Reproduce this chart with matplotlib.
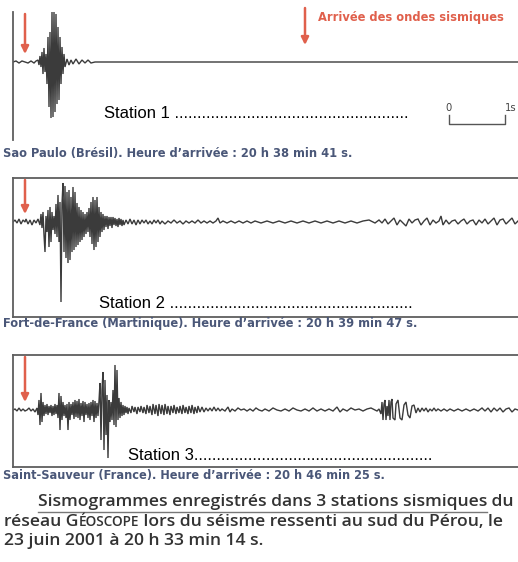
import matplotlib
matplotlib.use("Agg")
import matplotlib.pyplot as plt
import numpy as np

W, H = 518, 562

# --- data: traces (time in samples, amplitude in px) ---
station1 = [(0, 0), (3, 1), (6, -1), (9, 1), (12, 0), (15, -1), (18, 1), (21, -1), (23, 1),
            (25, 2), (26, -3), (27, 6), (28, -5), (29, 10), (30, -12), (31, 14), (32, -10),
            (33, 8), (34, -22), (35, 25), (36, -45), (37, 30), (38, -56), (39, 50), (40, -55),
            (41, 50), (42, -50), (43, 48), (44, -42), (45, 35), (46, -38), (47, 25), (48, -22),
            (49, 15), (50, -12), (51, 8), (52, -5), (54, 3), (56, -3), (58, 2), (60, -2),
            (63, 3), (66, -2), (69, 2), (72, -1), (75, 2), (78, -1), (82, 0), (505, 0)]

station2 = [(0, 0), (2, 2), (4, -1), (6, 3), (8, -2), (10, 2), (12, 0), (13, 3), (15, -2),
            (17, 2), (19, -3), (21, 2), (23, -1), (25, 3), (27, -3),
            (28, 8), (29, -6), (30, 10), (31, -13), (32, -30), (33, 6), (34, -10), (35, 12),
            (36, -25), (37, 15), (38, -20), (39, 10), (40, -8), (41, 6), (42, -12), (43, 18),
            (44, -15), (45, 27), (46, -20), (47, 20), (48, -80), (49, 18),
            (50, 39), (51, -30), (52, 36), (53, -36), (54, 30),
            (55, -41), (56, 32), (57, -38), (58, 25), (59, -30),
            (60, 35), (61, -28), (62, 30), (63, -25),
            (64, 19), (65, -23), (66, 15), (67, -20), (68, 12), (69, -18), (70, 10), (71, -15),
            (72, 8), (73, -12), (74, 10), (75, -10), (76, 14), (77, -15), (78, 20), (79, -22),
            (80, 25), (81, -28), (82, 22), (83, -25), (84, 25), (85, -20), (86, 15), (87, -15),
            (88, 10), (89, -10), (90, 8),
            (91, -8), (92, 6), (93, -5), (94, 6), (95, -7), (96, 5), (97, -4), (98, 5),
            (99, -6), (100, 5), (101, -3), (102, 4), (103, -4), (104, 3), (105, -5), (106, 4),
            (107, -3), (108, 3), (109, -4), (110, 2), (111, -3),
            (113, 2), (115, -2), (117, 3), (119, -2), (121, 2), (123, -3), (125, 2), (127, -2),
            (129, 2), (131, -1), (133, 2), (135, -2), (137, 1), (139, -2), (141, 2), (143, -1),
            (145, 2), (147, -2), (149, 1), (152, -2), (155, 1), (158, -1), (161, 2), (164, -1),
            (167, 1), (170, -2), (173, 1), (176, -1), (179, 1), (182, -1), (185, 2), (188, -1),
            (191, 1), (194, -1), (197, 1), (200, -1), (203, 1), (205, 4), (207, -1), (210, 1),
            (214, -1), (218, 1), (222, -1), (226, 1), (230, -1), (234, 1), (238, -1), (242, 1),
            (248, -1), (254, 1), (260, -1), (266, 1), (272, -1), (278, 1), (284, -1), (290, 1),
            (296, -1), (302, 1), (308, -1), (314, 1), (320, -1), (326, 1), (332, -1), (338, 1),
            (344, -1), (350, 1), (356, 2), (362, -1),
            (366, 2), (369, -1), (372, 3), (375, -2), (378, 1), (381, 4), (384, -3), (387, 2),
            (390, -1), (393, -4), (396, 3), (399, -1), (402, 2), (405, 3), (408, -3), (411, 1),
            (414, 4), (417, -3), (420, 2), (423, -1), (426, 1), (428, 6), (430, -3), (433, 2),
            (436, -2), (439, 1), (442, 2), (445, -2), (448, 1), (451, 3), (454, -2), (457, 1),
            (460, 2), (463, -3), (466, 2), (469, -1), (472, 3), (475, -2), (478, 1), (481, 4),
            (484, -3), (487, 2), (490, 3), (493, -2), (496, 1), (499, 4), (502, -2), (505, 1)]

station3 = [(0, 0), (2, 1), (4, -1), (6, 2), (8, -1), (10, 1), (12, -1), (14, 0), (16, 2),
            (18, -1), (20, 1), (22, -2), (24, 2),
            (25, -5), (26, 10), (27, -15), (28, 17), (29, -12), (30, 8),
            (31, -6), (32, 5), (33, -4), (34, 6), (35, -5), (36, 4), (37, -3), (38, 5), (39, -6),
            (40, 4), (41, -5), (42, 6), (43, -4), (44, 5),
            (45, -8), (46, 17), (47, -20), (48, 14), (49, -10),
            (50, 8), (51, -6), (52, 5), (53, -8), (54, 6), (55, -20), (56, 8), (57, -10), (58, 6),
            (59, -5), (60, 8), (61, -9), (62, 10), (63, -7), (64, 9), (65, -8), (66, 11),
            (67, -10), (68, 7), (69, -6), (70, 9), (71, -12), (72, 8), (73, -5), (74, 6),
            (75, -8), (76, 7), (77, -10), (78, 8), (79, -6), (80, 10), (81, -12), (82, 9),
            (83, -8), (84, 7), (85, -6), (86, 9),
            (87, 27), (88, -30), (89, 20), (90, 38), (91, -40), (92, 30), (93, -25), (94, 15),
            (95, -48), (96, 10), (97, -12),
            (98, 8), (99, -10), (100, 20), (101, -15), (102, 45), (103, -17), (104, 40), (105, -10),
            (106, 12), (107, -8), (108, 8), (109, -6), (110, 5), (111, -5), (112, 4),
            (113, -3), (114, 3), (115, -4), (116, 2), (118, -3), (119, 4), (121, -2), (122, 3),
            (124, -4), (125, 3), (127, -2), (128, 4), (130, -3), (131, 3), (133, -4), (134, 5),
            (136, -3), (137, 4), (139, -5), (140, 6), (142, -4), (143, 5), (145, -6), (146, 6),
            (148, -4), (149, 5), (151, -5), (152, 6), (154, -4), (155, 4), (157, -5), (158, 4),
            (160, -3), (161, 5), (163, -4), (164, 3), (166, -3), (167, 4), (169, -4), (170, 5),
            (172, -3), (173, 3), (175, -4), (176, 4), (178, -3), (179, 5), (181, -4), (182, 3),
            (184, -3), (185, 4), (187, -2), (189, 3), (191, -2), (193, 2), (195, -1), (197, 2),
            (199, -1), (201, 3), (203, -1), (205, 2), (207, -1), (209, 1), (212, -1), (215, 3),
            (217, -2), (219, 1), (222, -1), (225, 2), (228, 0), (231, 1), (234, -1), (237, 1),
            (240, -1), (243, 2), (246, 0), (249, -1), (252, 1), (256, -1), (260, 2), (264, 0),
            (268, -1), (272, 1), (276, -1), (280, 2), (284, 0), (288, -1), (292, 1), (296, -1),
            (300, 2), (304, -1), (308, 1), (312, -1), (316, 1), (320, -1), (324, 3), (327, -2),
            (330, 1), (334, -1), (338, 2), (342, 0), (346, 1), (350, -1), (354, 1), (358, 2),
            (362, 0), (364, -1),
            (366, 1), (368, -4), (369, 8), (370, -10), (371, 6), (372, 10), (373, -10), (374, 4),
            (375, -6), (376, 10), (377, -10), (378, 8), (379, 11), (380, -8), (382, -10),
            (383, 6), (385, 10), (387, -8), (389, -10), (391, 5), (393, 8), (395, -5), (397, -8),
            (399, 4), (401, 5), (403, -3), (405, 2),
            (407, -2), (409, 2), (411, -1), (413, 2), (415, -2), (417, 1), (419, -1), (421, 2),
            (423, -1), (425, 1), (428, -1), (431, 1), (434, -1), (437, 1), (441, -1), (445, 1),
            (449, -1), (453, 1), (457, -1), (461, 1), (465, -1), (469, 2), (472, -1), (475, 2),
            (478, -2), (481, 2), (484, -1), (487, 2), (490, -2), (493, 1), (496, 2), (499, -2),
            (502, 1), (505, 0)]

captions = ["Sao Paulo (Brésil). Heure d’arrivée : 20 h 38 min 41 s.",
            "Fort-de-France (Martinique). Heure d’arrivée : 20 h 39 min 47 s.",
            "Saint-Sauveur (France). Heure d’arrivée : 20 h 46 min 25 s."]
labels = ["Station 1 " + "." * 52, "Station 2 " + "." * 54, "Station 3" + "." * 53]
arrival_t = 12

# --- layout (pixel boxes: left, top, right, bottom, baseline) ---
panels = [(13, 12, 518, 140, 62), (13, 178, 518, 317, 222), (13, 355, 518, 467, 410)]
label_pos = [(104, 113), (99, 304), (128, 455)]
caption_y = [154, 324, 476]
caption_w = [352, 416, 382]

RED = "#e0604c"
TRACE = "#3b3b3b"
CAP = "#4a5778"
FRAME = "#5e5e5e"

fig = plt.figure(figsize=(W / 100, H / 100), dpi=100)
fig.patch.set_facecolor("white")
renderer = fig.canvas.get_renderer()

def fx(x):
    return x / W

def fy(y):
    return 1 - y / H

def fit_text(x, y, s, width, **kw):
    # place a text and scale its size so that it spans `width` pixels
    t = fig.text(fx(x), fy(y), s, **kw)
    w = t.get_window_extent(renderer).width
    t.set_fontsize(t.get_fontsize() * width / w)
    return t

axes = []
for i, (data, (l, t, r, b, base)) in enumerate(zip([station1, station2, station3], panels)):
    ax = fig.add_axes([fx(l), fy(b), (r - l) / W, (b - t) / H])
    ts, amp = zip(*data)
    ax.plot(ts, amp, color=TRACE, lw=1.0, solid_joinstyle="miter")
    ax.set_xlim(0, r - l)
    ax.set_ylim(-(b - base), base - t)
    ax.set_xticks([])
    ax.set_yticks([])
    for s in ax.spines.values():
        s.set_color(FRAME)
        s.set_linewidth(1.3)
    ax.spines["right"].set_visible(False)
    if i == 0:
        ax.spines["top"].set_visible(False)
        ax.spines["bottom"].set_visible(False)
    # arrival arrow
    ax.annotate("", xy=(arrival_t, 8), xytext=(arrival_t, base - t - 2),
                arrowprops=dict(arrowstyle="-|>", color=RED, lw=1.8, mutation_scale=11,
                                shrinkA=0, shrinkB=0))
    axes.append(ax)

# legend arrow + text
axes[0].annotate("", xy=(305 - 13, 62 - 45), xytext=(305 - 13, 62 - 8),
                 arrowprops=dict(arrowstyle="-|>", color=RED, lw=1.8, mutation_scale=11,
                                 shrinkA=0, shrinkB=0), annotation_clip=False)
fit_text(318, 17, "Arrivée des ondes sismiques", 184, color=RED, fontsize=10,
         fontweight="bold", fontstretch="condensed", ha="left", va="center")

# scale bar 0 - 1 s
ax0 = axes[0]
ax0.plot([449 - 13, 449 - 13, 505 - 13, 505 - 13], [62 - 115, 62 - 124, 62 - 124, 62 - 115],
         color="#555555", lw=1.0, clip_on=False)
fig.text(fx(449), fy(108), "0", fontsize=8, color="#444444", ha="center", va="center",
         fontstretch="condensed")
fig.text(fx(511), fy(108), "1s", fontsize=8, color="#444444", ha="center", va="center",
         fontstretch="condensed")

for (x, y), lab in zip(label_pos, labels):
    fig.text(fx(x), fy(y), lab, fontsize=12, family="Liberation Sans", color="black",
             ha="left", va="center")

for y, w, cap in zip(caption_y, caption_w, captions):
    fit_text(3, y, cap, w, fontsize=9, fontweight="bold", fontstretch="condensed",
             color=CAP, ha="left", va="center")

# footer
FOOT = "#333333"
probe = fig.text(0, 0, "réseau Géoscope lors du séisme ressenti au sud du Pérou, le",
                 fontsize=11, fontweight="semibold", family="Open Sans")
fsize = 11 * 505 / probe.get_window_extent(renderer).width
probe.remove()
fkw = dict(fontweight="semibold", family="Open Sans", color=FOOT, va="center")

def chain(x, y, parts):
    # draw text pieces one after another on the same line
    for txt, size in parts:
        t = fig.text(fx(x), fy(y), txt, ha="left", fontsize=size, **fkw)
        x += t.get_window_extent(renderer).width
    return x

x_end = chain(38, 502, [("Sismogrammes enregistrés dans 3 stations sismiques", fsize)])
chain(x_end, 502, [(" du", fsize)])
fig.add_artist(plt.Line2D([fx(38), fx(x_end)], [fy(512), fy(512)], color="#777777", lw=1.0))
chain(4, 522, [("réseau G", fsize), ("ÉOSCOPE", fsize * 0.78),
               (" lors du séisme ressenti au sud du Pérou, le", fsize)])
chain(4, 541, [("23 juin 2001 à 20 h 33 min 14 s.", fsize)])

fig.savefig("out.png", dpi=100, facecolor="white")
